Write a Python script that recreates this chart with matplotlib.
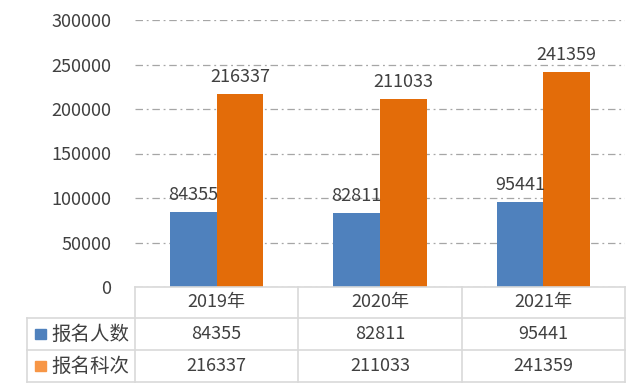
import matplotlib
matplotlib.use("Agg")
import matplotlib.pyplot as plt
import numpy as np

plt.rcParams['font.family'] = ['Noto Sans CJK SC', 'DejaVu Sans']

categories = ["2019年", "2020年", "2021年"]
series_names = ["报名人数", "报名科次"]
applicants = [84355, 82811, 95441]
subjects = [216337, 211033, 241359]
yticks = [0, 50000, 100000, 150000, 200000, 250000, 300000]

bar_colors = ["#4F81BD", "#E36C09"]
legend_colors = ["#4F81BD", "#F79646"]
text_color = "#404040"
grid_color = "#A6A6A6"
border_color = "#D9D9D9"

W, H = 644, 392
fig = plt.figure(figsize=(W / 100, H / 100), dpi=100)

left_px, right_px = 135, 625
top_px, bottom_px = 20, 287
ax = fig.add_axes([left_px / W, 1 - bottom_px / H, (right_px - left_px) / W, (bottom_px - top_px) / H])

x = np.arange(len(categories))
bw = 0.285
series = [applicants, subjects]
for i, vals in enumerate(series):
    offs = (i - 0.5) * bw
    ax.bar(x + offs, vals, width=bw, color=bar_colors[i], zorder=3)
    for xi, v in zip(x + offs, vals):
        ax.annotate(f"{v}", (xi, v), xytext=(0, 6), textcoords="offset points",
                    ha="center", va="bottom", fontsize=13, color=text_color, zorder=4)

ax.set_xlim(-0.5, len(categories) - 0.5)
ax.set_ylim(0, 300000)
ax.set_yticks(yticks)
ax.set_yticklabels([str(t) for t in yticks], fontsize=13, color=text_color)
ax.tick_params(axis='y', length=0, pad=17)
ax.set_xticks([])
for s in ax.spines.values():
    s.set_visible(False)
ax.yaxis.grid(True, color=grid_color, linestyle=(0, (6, 3, 1.5, 3)), linewidth=0.9, zorder=0)
ax.set_axisbelow(True)

# data table drawn below the axes
def fx(px):
    return px / W

def fy(py):
    return 1 - py / H

col_edges = [left_px + (right_px - left_px) * k / len(categories) for k in range(len(categories) + 1)]
label_left = 27
row_edges = [287, 318, 350, 382]

lw = 1.2
fig.add_artist(plt.Line2D([fx(left_px), fx(right_px)], [fy(row_edges[0])] * 2, color=border_color, lw=lw))
for r in row_edges[1:]:
    fig.add_artist(plt.Line2D([fx(label_left), fx(right_px)], [fy(r)] * 2, color=border_color, lw=lw))
for c in col_edges:
    fig.add_artist(plt.Line2D([fx(c)] * 2, [fy(row_edges[0]), fy(row_edges[-1])], color=border_color, lw=lw))
fig.add_artist(plt.Line2D([fx(label_left)] * 2, [fy(row_edges[1]), fy(row_edges[-1])], color=border_color, lw=lw))

for j, cat in enumerate(categories):
    cx = (col_edges[j] + col_edges[j + 1]) / 2
    cy = (row_edges[0] + row_edges[1]) / 2
    fig.text(fx(cx), fy(cy), cat, ha="center", va="center", fontsize=13, color=text_color)

for i, (name, vals) in enumerate(zip(series_names, series)):
    cy = (row_edges[i + 1] + row_edges[i + 2]) / 2
    fig.add_artist(plt.Rectangle((fx(35), fy(cy + 5)), 11 / W, 10 / H, color=legend_colors[i]))
    fig.text(fx(51), fy(cy), name, ha="left", va="center", fontsize=14, color=text_color)
    for j, v in enumerate(vals):
        cx = (col_edges[j] + col_edges[j + 1]) / 2
        fig.text(fx(cx), fy(cy), f"{v}", ha="center", va="center", fontsize=13, color=text_color)

fig.savefig("out.png", dpi=100)
